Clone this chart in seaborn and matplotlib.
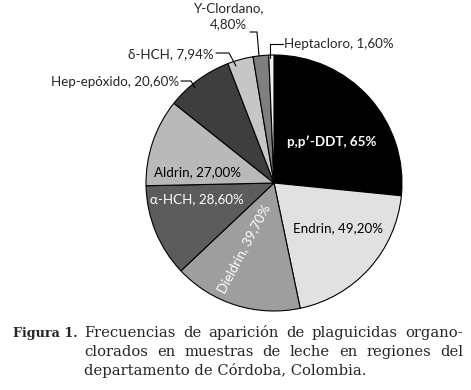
import matplotlib
matplotlib.use("Agg")
import matplotlib.pyplot as plt
import seaborn as sns
import numpy as np

sns.set_theme(style="white")
plt.rcParams['font.family'] = ['Lato', 'DejaVu Sans']

# Data
categories = ["p,p\u2032-DDT", "Endrin", "Dieldrin", "\u03b1-HCH", "Aldrin",
              "Hep-ep\u00f3xido", "\u03b4-HCH", "Y-Clordano", "Heptacloro"]
values = [65.0, 49.20, 39.70, 28.60, 27.00, 20.60, 7.94, 4.80, 1.60]
value_labels = ["65%", "49,20%", "39,70%", "28,60%", "27,00%", "20,60%", "7,94%", "4,80%", "1,60%"]
colors = ["#000000", "#e1e1e1", "#9e9e9e", "#5c5c5c", "#b9b9b9",
          "#3e3e3e", "#c6c6c6", "#7f7f7f", "#efefef"]

caption_bold = "Figura 1."
caption_lines = ["Frecuencias de aparici\u00f3n de plaguicidas organo-",
                 "clorados en muestras de leche en regiones del",
                 "departamento de C\u00f3rdoba, Colombia."]

W, H = 471, 390
fig = plt.figure(figsize=(W / 100, H / 100), dpi=100)
fig.patch.set_facecolor("white")

cx, cy, r = 274, 183, 128
ax = fig.add_axes([(cx - r) / W, 1 - (cy + r) / H, 2 * r / W, 2 * r / H])
wedges, _ = ax.pie(values, colors=colors, startangle=90, counterclock=False,
                   wedgeprops=dict(edgecolor="black", linewidth=0.8))
ax.set_xlim(-1, 1)
ax.set_ylim(-1, 1)
ax.set_aspect("equal")
ax.axis("off")

def px(x, y):
    return ((x - cx) / r, (cy - y) / r)

fs = 9.6
# inside labels
inside = {
    0: dict(pos=px(332, 142), color="white", weight="bold", rot=0),
    1: dict(pos=px(338, 228), color="black", weight="normal", rot=0),
    2: dict(pos=px(244, 249), color="white", weight="normal", rot=62),
    3: dict(pos=px(197, 199), color="white", weight="normal", rot=0),
    4: dict(pos=px(197, 172), color="black", weight="normal", rot=0),
}
for i, d in inside.items():
    ax.text(*d["pos"], f"{categories[i]}, {value_labels[i]}", color=d["color"],
            fontsize=fs, fontweight=d["weight"], rotation=d["rot"],
            ha="center", va="center", rotation_mode="anchor")

lk = dict(color="black", lw=0.8)
# Hep-epóxido
ax.text(*px(179, 82), f"{categories[5]}, {value_labels[5]}", fontsize=fs, ha="right", va="center")
ax.plot(*zip(px(181, 81), px(191, 81), px(195, 88)), **lk)
# δ-HCH
ax.text(*px(214, 54), f"{categories[6]}, {value_labels[6]}", fontsize=fs, ha="right", va="center")
ax.plot(*zip(px(216, 53), px(229, 53), px(236, 66)), **lk)
# Y-Clordano
ax.text(*px(228, 16), f"{categories[7]},\n{value_labels[7]}", fontsize=fs, ha="center",
        va="center", linespacing=1.35)
ax.plot(*zip(px(250, 32), px(257, 32), px(259, 56)), **lk)
# Heptacloro
ax.text(*px(284, 44), f"{categories[8]}, {value_labels[8]}", fontsize=fs, ha="left", va="center")
ax.plot(*zip(px(283, 44), px(270, 44), px(270, 58)), **lk)

for t in ax.texts:
    t.set_clip_on(False)
for l in ax.lines:
    l.set_clip_on(False)

# Caption
serif = ['DejaVu Serif']
cfs = 10.6
fig.text(13 / W, 1 - 333 / H, caption_bold, fontsize=9.2, fontweight="bold",
         family=serif, ha="left", va="center")
fig.canvas.draw()
renderer = fig.canvas.get_renderer()
x0, x1 = 84, 463
ys = [333, 352, 371]
for li, (line, yy) in enumerate(zip(caption_lines, ys)):
    words = line.split(" ")
    if li < 2:
        texts = [fig.text(0, 1 - yy / H, w, fontsize=cfs, family=serif, ha="left", va="center")
                 for w in words]
        widths = [t.get_window_extent(renderer).width for t in texts]
        gap = (x1 - x0 - sum(widths)) / (len(words) - 1)
        xpos = x0
        for t, wdt in zip(texts, widths):
            t.set_x(xpos / W)
            xpos += wdt + gap
    else:
        fig.text(x0 / W, 1 - yy / H, line, fontsize=cfs, family=serif, ha="left", va="center")

fig.savefig("out.png", dpi=100, facecolor="white")
